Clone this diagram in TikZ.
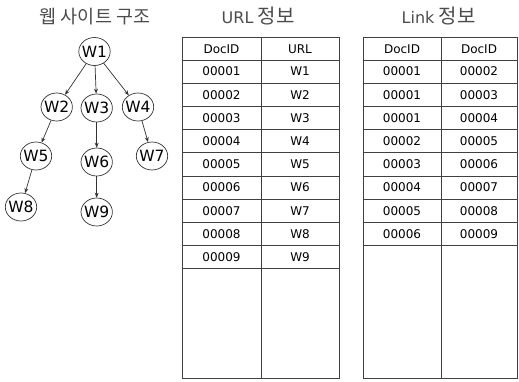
\documentclass[tikz,border=0pt]{standalone}
\usepackage{fontspec}
\setmainfont{DejaVu Sans}
\newfontfamily\dvs{DejaVu Sans}
\newfontfamily\cjk{Noto Sans CJK KR}
\usetikzlibrary{shapes.geometric,arrows.meta}
\begin{document}
\begin{tikzpicture}[x=1pt,y=-1pt,
  wnode/.style={ellipse,draw=black!80,line width=0.7pt,minimum width=31pt,minimum height=28pt,inner xsep=-1.5pt,inner ysep=0pt,font=\dvs\fontsize{15.5}{18}\selectfont},
  link/.style={draw=black!80,line width=0.7pt,-{Stealth[length=5pt,width=4pt]}},
  gridline/.style={draw=black!75,line width=0.7pt},
  cell/.style={font=\dvs\fontsize{12}{14}\selectfont,inner sep=0pt,anchor=center},
  title/.style={text=black!70,inner sep=0pt,font=\dvs\fontsize{16}{18}\selectfont}]
\useasboundingbox (0,0) rectangle (519,381);
% titles
\node[title] (t1) at (95,16.5) {\cjk\fontsize{18.5}{20}\selectfont 웹 사이트 구조};
\node[title] (t2) at (258.5,16) {URL\hspace{4pt}{\cjk\fontsize{20}{22}\selectfont 정\hspace{1pt}보}};
\node[title] (t3) at (439,16) {Link\hspace{4pt}{\cjk\fontsize{20}{22}\selectfont 정\hspace{1pt}보}};
% tree
\node[wnode] (w1) at (94.5,51.5) {W1};
\node[wnode] (w2) at (56.7,107) {W2};
\node[wnode] (w3) at (96.7,108) {W3};
\node[wnode] (w4) at (138,107) {W4};
\node[wnode] (w5) at (36,156) {W5};
\node[wnode] (w6) at (96.7,162) {W6};
\node[wnode] (w7) at (152,156) {W7};
\node[wnode] (w8) at (21,207) {W8};
\node[wnode] (w9) at (96.7,212) {W9};
\draw[link] (w1) -- (w2);
\draw[link] (w1) -- (w3);
\draw[link] (w1) -- (w4);
\draw[link] (w2) -- (w5);
\draw[link] (w3) -- (w6);
\draw[link] (w4) -- (w7);
\draw[link] (w5) -- (w8);
\draw[link] (w6) -- (w9);
% URL table
\draw[gridline] (182,37.5) rectangle (339,378);
\draw[gridline] (261,37.5) -- (261,378);
\foreach \k in {0,...,9} \draw[gridline] (182,{60+23.2*\k}) -- (339,{60+23.2*\k});
\node[cell] (uh1) at (221.5,49) {DocID};
\node[cell] (uh2) at (300,49) {URL};
\foreach \i in {1,...,9} {
  \node[cell] (ua\i) at (221.5,{60+23.2*(\i-0.5)}) {0000\i};
  \node[cell] (ub\i) at (300,{60+23.2*(\i-0.5)}) {W\i};
}
% Link table
\draw[gridline] (363,37.5) rectangle (517.5,378);
\draw[gridline] (441,37.5) -- (441,378);
\foreach \k in {0,...,8} \draw[gridline] (363,{60+23.2*\k}) -- (517.5,{60+23.2*\k});
\node[cell] (lh1) at (402,49) {DocID};
\node[cell] (lh2) at (479,49) {DocID};
\foreach \a/\b [count=\i] in {1/2,1/3,1/4,2/5,3/6,4/7,5/8,6/9} {
  \node[cell] (la\i) at (402,{60+23.2*(\i-0.5)}) {0000\a};
  \node[cell] (lb\i) at (479,{60+23.2*(\i-0.5)}) {0000\b};
}
\end{tikzpicture}
\end{document}
